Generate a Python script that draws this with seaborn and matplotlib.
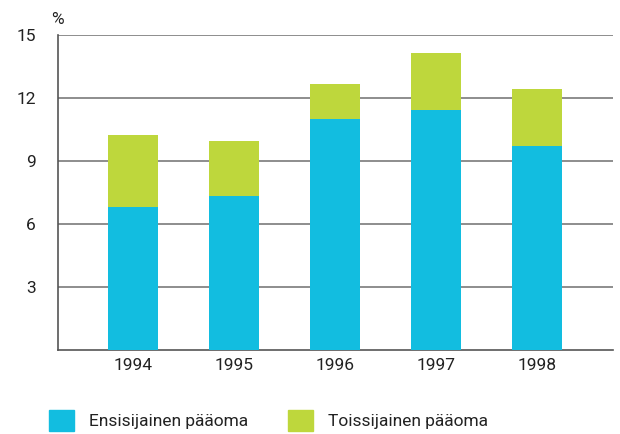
import seaborn as sns
import matplotlib.pyplot as plt
import matplotlib.patches as mpatches
import pandas as pd

years = ["1994", "1995", "1996", "1997", "1998"]
primary = [6.8, 7.35, 11.0, 11.45, 9.7]
secondary = [3.45, 2.6, 1.65, 2.7, 2.75]
yticks = [3, 6, 9, 12, 15]

blue = "#12BDE0"
green = "#BED73C"

sns.set_theme(style="white")
plt.rcParams['font.family'] = ['Roboto', 'DejaVu Sans']

df = pd.DataFrame({"year": years, "primary": primary, "secondary": secondary})
df["total"] = df["primary"] + df["secondary"]

fig = plt.figure(figsize=(6.2, 4.34), dpi=100)
ax = fig.add_axes([0.0935, 0.1935, 0.8955, 0.7255])

sns.barplot(data=df, x="year", y="total", color=green, width=0.495,
            saturation=1, linewidth=0, ax=ax, zorder=3)
sns.barplot(data=df, x="year", y="primary", color=blue, width=0.495,
            saturation=1, linewidth=0, ax=ax, zorder=3)

ax.set_ylim(0, 15)
ax.set_xlim(-0.74, 4.75)
ax.set_yticks(yticks)
ax.set_yticklabels([str(t) for t in yticks])
ax.yaxis.grid(True, color="#7a7a7a", linewidth=1.2, zorder=1)
ax.tick_params(axis="y", length=4, width=1.2, color="#7a7a7a", pad=12,
               labelsize=12.5, labelcolor="#222222")
ax.tick_params(axis="x", length=0, pad=6, labelsize=12.5, labelcolor="#222222")
for s in ["top", "right"]:
    ax.spines[s].set_visible(False)
for s in ["left", "bottom"]:
    ax.spines[s].set_color("#555555")
    ax.spines[s].set_linewidth(1.2)
ax.set_xlabel("")
ax.set_ylabel("")
ax.text(-0.012, 1.025, "%", transform=ax.transAxes, fontsize=12.5,
        color="#222222", ha="left", va="bottom")

handles = [mpatches.Patch(color=blue, label="Ensisijainen pääoma"),
           mpatches.Patch(color=green, label="Toissijainen pääoma")]
fig.legend(handles=handles, loc="lower left", bbox_to_anchor=(0.054, -0.03),
           ncol=2, frameon=False, fontsize=12.5, handlelength=1.45,
           handleheight=1.55, handletextpad=0.85, columnspacing=2.3,
           labelcolor="#222222")

fig.savefig("out.png", dpi=100)
